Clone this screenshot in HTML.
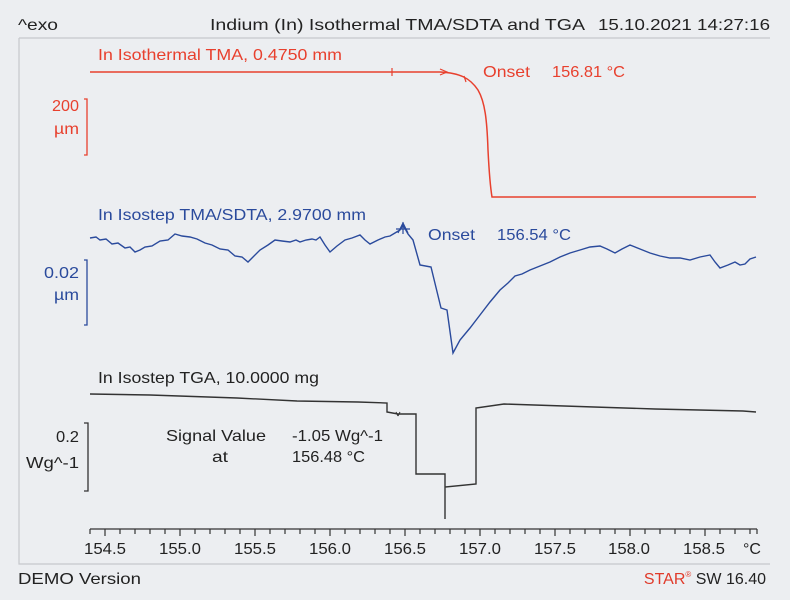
<!DOCTYPE html>
<html><head><meta charset="utf-8"><style>
html,body{margin:0;padding:0;background:#eceef1;}
svg{display:block;font-family:"Liberation Sans",sans-serif;}
</style></head><body>
<svg width="790" height="600" viewBox="0 0 790 600" xmlns="http://www.w3.org/2000/svg">
<rect width="790" height="600" fill="#eceef1"/>
<g font-size="16" fill="#222">
<text x="18" y="30" textLength="40" lengthAdjust="spacingAndGlyphs">^exo</text>
<text x="210" y="30" textLength="375" lengthAdjust="spacingAndGlyphs">Indium (In) Isothermal TMA/SDTA and TGA</text>
<text x="598" y="30" textLength="172" lengthAdjust="spacingAndGlyphs">15.10.2021 14:27:16</text>
<text x="18" y="584" textLength="123" lengthAdjust="spacingAndGlyphs">DEMO Version</text>
<text x="766" y="584" text-anchor="end"><tspan fill="#e03a2a">STAR</tspan><tspan fill="#e03a2a" font-size="8" dy="-7">®</tspan><tspan dy="7"> SW 16.40</tspan></text>
</g>
<path d="M19 38 H770 M19 38 V564 H770" stroke="#c6c8cc" stroke-width="1.2" fill="none"/>
<!-- red -->
<g fill="#e8402e" font-size="16">
<text x="98" y="60" textLength="244" lengthAdjust="spacingAndGlyphs">In Isothermal TMA, 0.4750 mm</text>
<text x="483" y="77" textLength="47" lengthAdjust="spacingAndGlyphs">Onset</text><text x="552" y="77" textLength="73" lengthAdjust="spacingAndGlyphs">156.81 °C</text>
<text x="52" y="111" textLength="27" lengthAdjust="spacingAndGlyphs">200</text>
<text x="54" y="134" textLength="25" lengthAdjust="spacingAndGlyphs">µm</text>
</g>
<path d="M84 99 H87 V155 H84" stroke="#e8402e" fill="none" stroke-width="1.3"/>
<path d="M90 72 H440 C460 73 470 78 478 90 C485 102 487 120 488 150 C489 170 490 185 492 197 H756" stroke="#e8402e" fill="none" stroke-width="1.5"/>
<path d="M392 68 V76 M440 69 L447 72 L440 75 M464 76 L466 82" stroke="#e8402e" stroke-width="1.2" fill="none"/>
<!-- blue -->
<g fill="#2a4a9c" font-size="16">
<text x="98" y="220" textLength="268" lengthAdjust="spacingAndGlyphs">In Isostep TMA/SDTA, 2.9700 mm</text>
<text x="428" y="240" textLength="47" lengthAdjust="spacingAndGlyphs">Onset</text><text x="497" y="240" textLength="74" lengthAdjust="spacingAndGlyphs">156.54 °C</text>
<text x="44" y="278" textLength="35" lengthAdjust="spacingAndGlyphs">0.02</text>
<text x="54" y="300" textLength="25" lengthAdjust="spacingAndGlyphs">µm</text>
</g>
<path d="M84 260 H87 V325 H84" stroke="#2a4a9c" fill="none" stroke-width="1.3"/>
<polyline fill="none" stroke="#2a4a9c" stroke-width="1.4" points="90,238 96,237 100,240 106,239 112,244 118,243 125,248 130,247 135,252 140,250 145,247 152,246 160,241 168,240 175,234 182,236 190,237 197,239 205,243 212,245 220,249 228,250 235,256 242,257 248,262 254,256 260,250 268,245 275,240 282,241 290,242 296,240 300,242 306,240 312,239 316,240 320,237 325,245 330,252 337,246 345,240 352,238 360,235 365,240 370,244 378,240 385,237 390,236 395,233 400,230 403,225 408,234 413,240 420,265 431,267 441,308 447,310 453,353 460,340 470,328 480,315 490,302 500,290 508,283 515,276 522,274 530,270 535,268 540,266 550,262 560,257 570,253 580,250 590,247 600,246 607,249 615,253 622,249 630,245 640,249 650,253 660,256 670,258 680,258 690,260 700,257 710,255 715,262 720,268 728,265 735,262 740,265 745,264 750,259 756,257"/>
<path d="M396 229 H410 M403 222 V234 M398 233 L403 223 L408 233" stroke="#2a4a9c" stroke-width="1.2" fill="none"/>
<!-- black -->
<g fill="#222" font-size="16">
<text x="98" y="383" textLength="221" lengthAdjust="spacingAndGlyphs">In Isostep TGA, 10.0000 mg</text>
<text x="56" y="442" textLength="23" lengthAdjust="spacingAndGlyphs">0.2</text>
<text x="26" y="468" textLength="53" lengthAdjust="spacingAndGlyphs">Wg^-1</text>
<text x="166" y="441" textLength="100" lengthAdjust="spacingAndGlyphs">Signal Value</text>
<text x="292" y="441" textLength="91" lengthAdjust="spacingAndGlyphs">-1.05 Wg^-1</text>
<text x="212" y="462" textLength="16" lengthAdjust="spacingAndGlyphs">at</text>
<text x="292" y="462" textLength="73" lengthAdjust="spacingAndGlyphs">156.48 °C</text>
</g>
<path d="M84 423 H88 V491 H84" stroke="#333" fill="none" stroke-width="1.3"/>
<polyline fill="none" stroke="#333" stroke-width="1.4" points="90,394 150,395 179,396 237,398 297,401 358,402 387,403 387,412 398,414 416,414 416,474 445,474 445,519 445,487 476,484 476,408 504,404 594,407 655,409 743,411 756,412"/>
<path d="M396 412 L398 416 M400 412 L398 416" stroke="#333" stroke-width="1" fill="none"/>
<!-- axis -->
<g stroke="#333" stroke-width="1.2">
<path d="M90 529 H757"/>
<path d="M90 529 v5 M105 529 v7 M120 529 v5 M135 529 v5 M150 529 v5 M165 529 v5 M180 529 v7 M195 529 v5 M210 529 v5 M225 529 v5 M240 529 v5 M255 529 v7 M270 529 v5 M285 529 v5 M300 529 v5 M315 529 v5 M330 529 v7 M345 529 v5 M360 529 v5 M375 529 v5 M390 529 v5 M405 529 v7 M420 529 v5 M435 529 v5 M450 529 v5 M465 529 v5 M480 529 v7 M495 529 v5 M510 529 v5 M525 529 v5 M540 529 v5 M555 529 v7 M570 529 v5 M585 529 v5 M600 529 v5 M615 529 v5 M630 529 v7 M645 529 v5 M660 529 v5 M675 529 v5 M690 529 v5 M705 529 v7 M720 529 v5 M735 529 v5 M750 529 v5 M757 529 v5"/>
</g>
<g font-size="16" fill="#222">
<text x="84" y="554" textLength="42" lengthAdjust="spacingAndGlyphs">154.5</text>
<text x="159" y="554" textLength="42" lengthAdjust="spacingAndGlyphs">155.0</text>
<text x="234" y="554" textLength="42" lengthAdjust="spacingAndGlyphs">155.5</text>
<text x="309" y="554" textLength="42" lengthAdjust="spacingAndGlyphs">156.0</text>
<text x="384" y="554" textLength="42" lengthAdjust="spacingAndGlyphs">156.5</text>
<text x="459" y="554" textLength="42" lengthAdjust="spacingAndGlyphs">157.0</text>
<text x="534" y="554" textLength="42" lengthAdjust="spacingAndGlyphs">157.5</text>
<text x="608" y="554" textLength="42" lengthAdjust="spacingAndGlyphs">158.0</text>
<text x="683" y="554" textLength="42" lengthAdjust="spacingAndGlyphs">158.5</text>
<text x="743" y="554">°C</text>
</g>
</svg>
</body></html>
